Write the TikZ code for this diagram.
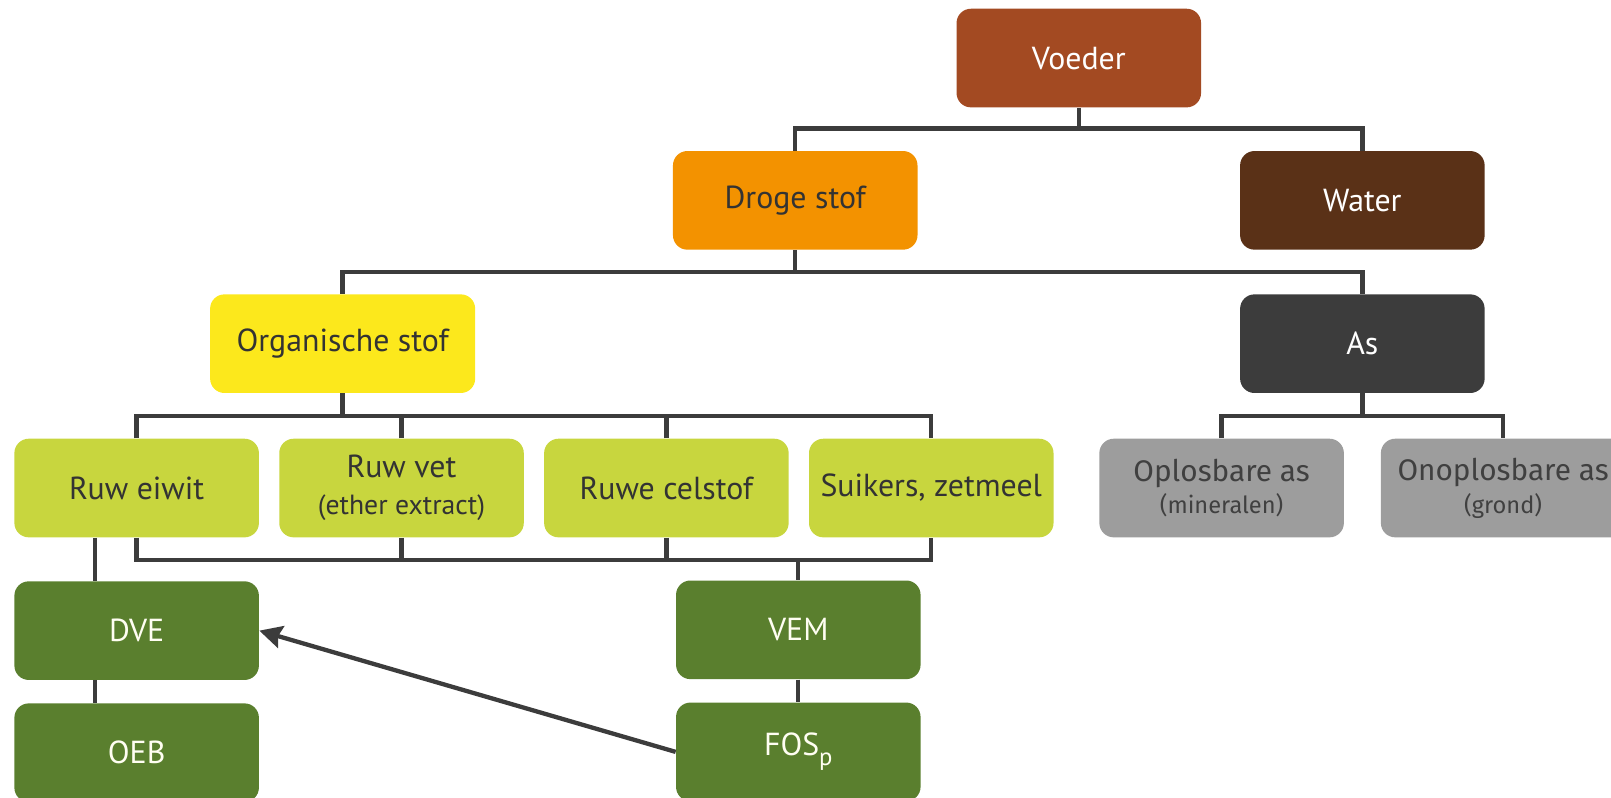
\documentclass[tikz,border=0pt]{standalone}
\usepackage{fontspec}
\setmainfont{PT Sans}
\newfontfamily\firasans{Fira Sans}
\usepackage{tikz}
\usetikzlibrary{arrows.meta,positioning,calc}
\usepackage{xcolor}
\definecolor{voeder}{HTML}{A34A22}
\definecolor{droog}{HTML}{F39200}
\definecolor{water}{HTML}{5A3117}
\definecolor{organisch}{HTML}{FCE81C}
\definecolor{asgrijs}{HTML}{3C3C3C}
\definecolor{lichtgroen}{HTML}{C8D63E}
\definecolor{donkergroen}{HTML}{5A7F2E}
\definecolor{grijs}{HTML}{9D9D9D}
\definecolor{lijn}{HTML}{3C3C3C}

\begin{document}
\begin{tikzpicture}[x=0.5pt, y=-0.5pt,
        box/.style={rounded corners=7pt, minimum width=119pt, minimum height=48pt, align=center, inner sep=2pt, font=\fontsize{15.5}{18}\selectfont},
        bruin/.style={box, fill=voeder, text=white},
        oranje/.style={box, fill=droog, text=black!80},
        donker/.style={box, fill=#1, text=white},
        geel/.style={box, fill=organisch, text=black!80, minimum width=129pt},
        licht/.style={box, fill=lichtgroen, text=black!80},
        groen/.style={box, fill=donkergroen, text=white!95!yellow},
        mineraal/.style={box, fill=grijs, text=black!75, font=\firasans\fontsize{14.5}{16}\selectfont},
        lijnstuk/.style={draw=lijn, line width=2.1pt}
    ]
        \useasboundingbox (0,0) rectangle (1568,776);
        \clip (0,0) rectangle (1568,776);

        \node[bruin] (vo) at (1050,56.5) {Voeder};
        \node[oranje] (ds) at (774,195) {Droge stof};
        \node[donker=water] (wa) at (1326,195) {Water};
        \node[geel] (os) at (333.5,334.5) {Organische stof};
        \node[donker=asgrijs] (as) at (1326,334.5) {As};

        \node[licht] (re) at (133,475) {Ruw eiwit};
        \node[licht, right=9.5pt of re] (rv) {Ruw vet\\{\fontsize{13.5}{14}\selectfont (ether extract)}};
        \node[licht, right=9.5pt of rv] (rc) {Ruwe celstof};
        \node[licht, right=9.5pt of rc] (sz) {Suikers, zetmeel};

        \node[mineraal] (ol) at (1189,475) {Oplosbare as\\{\fontsize{11.5}{12}\selectfont (mineralen)}};
        \node[mineraal] (on) at (1463,475) {Onoplosbare as\\{\fontsize{11.5}{12}\selectfont (grond)}};

        \node[groen, below=21pt of re] (dve) {DVE};
        \node[groen, below=11pt of dve] (oeb) {OEB};
        \node[groen] (vem) at (777,613) {VEM};
        \node[groen, below=11pt of vem] (fos) {FOS\raisebox{-5pt}{\fontsize{12}{12}\selectfont p}};

        \coordinate (b1) at (1050,125);
        \coordinate (b2) at (774,265);
        \coordinate (b3) at (333.5,405);
        \coordinate (b4) at (1326,405);
        \coordinate (b5) at (777,545);

        \draw[lijnstuk] (vo.south) -- (b1);
        \draw[lijnstuk] (ds.north) |- (b1) -| (wa.north);
        \draw[lijnstuk] (ds.south) -- (b2);
        \draw[lijnstuk] (os.north) |- (b2) -| (as.north);
        \draw[lijnstuk] (os.south) -- (b3);
        \draw[lijnstuk] (re.north) |- (b3) -| (sz.north);
        \draw[lijnstuk] (rv.north) -- (rv.north |- b3);
        \draw[lijnstuk] (rc.north) -- (rc.north |- b3);
        \draw[lijnstuk] (as.south) -- (b4);
        \draw[lijnstuk] (ol.north) |- (b4) -| (on.north);

        \draw[lijnstuk] (re.south) |- (b5) -| (sz.south);
        \draw[lijnstuk] (rv.south) -- (rv.south |- b5);
        \draw[lijnstuk] (rc.south) -- (rc.south |- b5);
        \draw[lijnstuk] (b5) -- (vem.north);
        \draw[lijnstuk] (vem.south) -- (fos.north);

        \draw[lijnstuk] ([xshift=-20.25pt]re.south) -- ([xshift=-20.25pt]dve.north);
        \draw[lijnstuk] ([xshift=-20.25pt]dve.south) -- ([xshift=-20.25pt]oeb.north);

        \draw[lijnstuk, -{Stealth[length=11pt, width=11pt, inset=1.5pt]}] (fos.west) -- (dve.east);
    \end{tikzpicture}
\end{document}
